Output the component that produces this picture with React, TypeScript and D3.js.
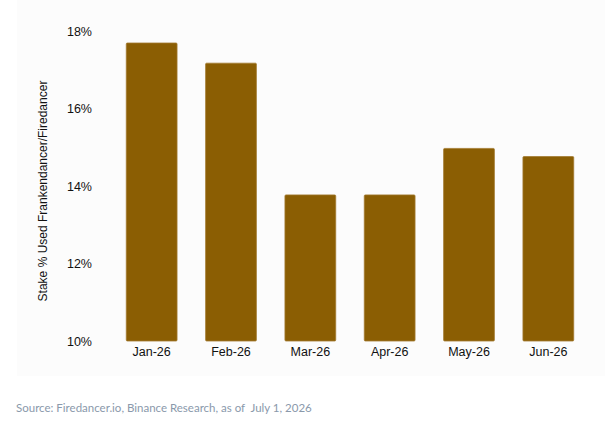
import React, { useEffect, useRef } from "react";
import * as d3 from "d3";

const months = ["Jan-26", "Feb-26", "Mar-26", "Apr-26", "May-26", "Jun-26"];
const stakePct = [17.69, 17.17, 13.77, 13.77, 14.97, 14.76];
const yTicks = [10, 12, 14, 16, 18];
const yLabel = "Stake % Used Frankendancer/Firedancer";
const source = "Source: Firedancer.io, Binance Research, as of  July 1, 2026";

const W = 605;
const H = 424;

const App: React.FC = () => {
  const ref = useRef<SVGSVGElement | null>(null);

  useEffect(() => {
    const root = d3.select(ref.current);
    root.selectAll("*").remove();

    // faint panel behind the chart
    root
      .append("rect")
      .attr("x", 17)
      .attr("y", 0)
      .attr("width", W - 17)
      .attr("height", 376)
      .attr("fill", "#fcfcfc");

    const x = d3
      .scaleBand()
      .domain(months)
      .range([112, 588])
      .paddingInner(0.36)
      .paddingOuter(0.18);

    const y = d3.scaleLinear().domain([10, 18]).range([341, 31]);

    const data = months.map((m, i) => ({ month: m, value: stakePct[i] }));

    root
      .append("g")
      .selectAll("rect")
      .data(data)
      .enter()
      .append("rect")
      .attr("x", (d) => x(d.month) ?? 0)
      .attr("y", (d) => y(d.value))
      .attr("width", x.bandwidth())
      .attr("height", (d) => y(10) - y(d.value))
      .attr("rx", 1)
      .attr("fill", "#8b5e03")
      .attr("stroke", "#a27a30")
      .attr("stroke-width", 0.8);

    // y axis tick labels
    const yAxis = d3
      .axisLeft(y)
      .tickValues(yTicks)
      .tickFormat((d) => `${d}%`)
      .tickSize(0)
      .tickPadding(0);

    const gy = root.append("g").attr("transform", "translate(92,0)").call(yAxis);
    gy.select(".domain").remove();
    gy.selectAll("text")
      .attr("font-family", "Liberation Sans, Arial, sans-serif")
      .attr("font-size", 12.5)
      .attr("fill", "#111");

    // x axis labels
    const xAxis = d3.axisBottom(x).tickSize(0).tickPadding(0);
    const gx = root.append("g").attr("transform", "translate(0,347)").call(xAxis);
    gx.select(".domain").remove();
    gx.selectAll("text")
      .attr("dy", "0.71em")
      .attr("font-family", "Liberation Sans, Arial, sans-serif")
      .attr("font-size", 12.5)
      .attr("fill", "#111");

    root
      .append("text")
      .attr("transform", "translate(47,191) rotate(-90)")
      .attr("text-anchor", "middle")
      .attr("font-family", "Liberation Sans, Arial, sans-serif")
      .attr("font-size", 12)
      .attr("fill", "#111")
      .text(yLabel);

    root
      .append("text")
      .attr("x", 16)
      .attr("y", 412)
      .attr("font-family", "Lato, sans-serif")
      .attr("font-size", 11.5)
      .attr("fill", "#8a99ab")
      .style("white-space", "pre")
      .text(source);
  }, []);

  return (
    <svg
      ref={ref}
      width={W}
      height={H}
      style={{ position: "absolute", left: 0, top: 0, background: "#fff" }}
    ></svg>
  );
};

export default App;
